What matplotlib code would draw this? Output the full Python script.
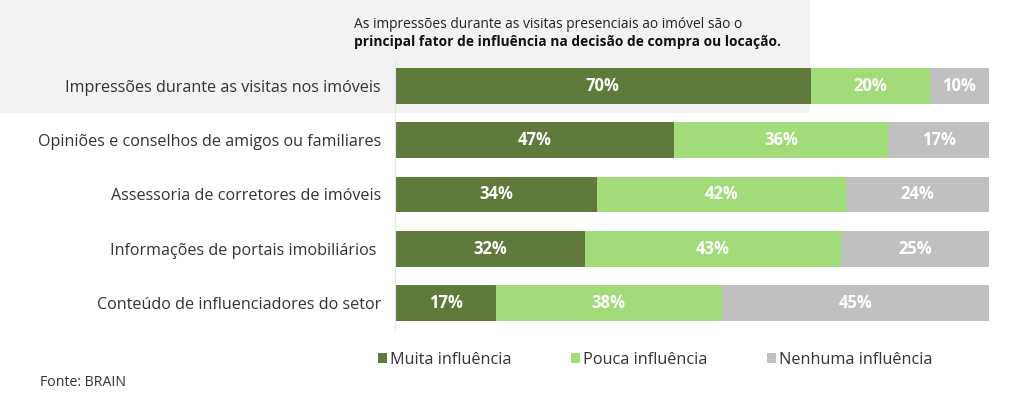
import matplotlib
matplotlib.use("Agg")
import matplotlib.pyplot as plt
from matplotlib.patches import Rectangle, Patch

plt.rcParams["font.family"] = ["Open Sans", "DejaVu Sans"]

categories = [
    "Impressões durante as visitas nos imóveis",
    "Opiniões e conselhos de amigos ou familiares",
    "Assessoria de corretores de imóveis",
    "Informações de portais imobiliários ",
    "Conteúdo de influenciadores do setor",
]
muita = [70, 47, 34, 32, 17]
pouca = [20, 36, 42, 43, 38]
nenhuma = [10, 17, 24, 25, 45]
series_names = ["Muita influência", "Pouca influência", "Nenhuma influência"]

DARK = "#5f7a3a"
LIGHT = "#a2db7a"
GRAY = "#c0c0c2"
TEXT = "#333333"

fig = plt.figure(figsize=(10.24, 3.99), dpi=100, facecolor="white")

# highlight box behind the first row and the headline
fig.patches.append(Rectangle((0, 1 - 113 / 399), 810 / 1024, 113 / 399,
                             transform=fig.transFigure, facecolor="#f2f2f2",
                             edgecolor="none", zorder=-5))

ax = fig.add_axes([395 / 1024, 1 - 330 / 399, 594 / 1024, 271 / 399])
ax.set_facecolor("none")
ax.set_zorder(1)

y = list(range(len(categories)))
left2 = [a for a in muita]
left3 = [a + b for a, b in zip(muita, pouca)]
h = 0.66
b1 = ax.barh(y, muita, height=h, color=DARK)
b2 = ax.barh(y, pouca, left=left2, height=h, color=LIGHT)
b3 = ax.barh(y, nenhuma, left=left3, height=h, color=GRAY)

for bars, vals in ((b1, muita), (b2, pouca), (b3, nenhuma)):
    for rect, v in zip(bars, vals):
        ax.text(rect.get_x() + rect.get_width() / 2, rect.get_y() + rect.get_height() / 2,
                f"{v}%", ha="center", va="center", color="white",
                fontsize=12, fontweight="bold")

ax.set_xlim(0, 100)
ax.set_ylim(len(categories) - 0.5, -0.5)
ax.set_yticks(y)
ax.set_yticklabels(categories, fontsize=11.6, color=TEXT)
ax.tick_params(axis="y", length=0, pad=10)
ax.set_xticks([])
for s in ("top", "right", "bottom"):
    ax.spines[s].set_visible(False)
ax.spines["left"].set_color("#e6e6e6")
ax.spines["left"].set_linewidth(0.8)

handles = [Patch(facecolor=c, edgecolor="none") for c in (DARK, LIGHT, GRAY)]
fig.legend(handles, series_names, loc="center left",
           bbox_to_anchor=(363 / 1024, 1 - 360 / 399), ncol=3, frameon=False,
           fontsize=11.7, handlelength=0.6, handleheight=0.6, handletextpad=0.15,
           columnspacing=3.65, labelcolor=TEXT)

fig.text(354 / 1024, 1 - 24 / 399,
         "As impressões durante as visitas presenciais ao imóvel são o",
         fontsize=9.9, color="#222222", va="center", ha="left")
fig.text(354 / 1024, 1 - 42 / 399,
         "principal fator de influência na decisão de compra ou locação.",
         fontsize=9.9, color="#111111", va="center", ha="left", fontweight="bold")

fig.text(40 / 1024, 1 - 383 / 399, "Fonte: BRAIN", fontsize=10.2, color=TEXT,
         va="center", ha="left")

fig.savefig("out.png", dpi=100, facecolor="white")
